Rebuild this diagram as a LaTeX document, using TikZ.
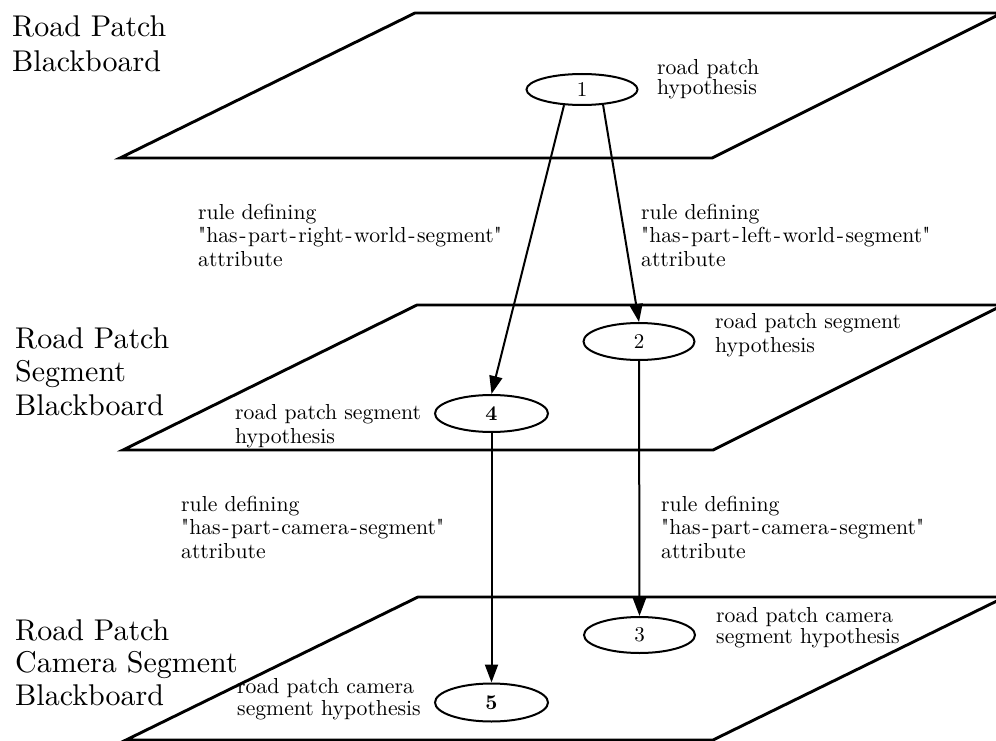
\documentclass[tikz,border=0pt]{standalone}
\usetikzlibrary{arrows.meta,shapes.geometric}
\DeclareFontFamily{TU}{lmten}{}
\DeclareFontShape{TU}{lmten}{m}{n}{<-> "[lmroman10-regular]"}{}
\DeclareFontShape{TU}{lmten}{b}{n}{<-> "[lmroman10-bold]"}{}
\newcommand\myhy{\kern1.6pt-\kern1.6pt}
\tikzset{
  plane/.style={line width=2.9pt, line join=miter},
  hyp/.style={ellipse, draw, line width=2pt, inner sep=0pt, font=\fontfamily{lmten}\fontsize{21}{22}\selectfont},
  hypb/.style={hyp, font=\fontfamily{lmten}\fontseries{b}\fontsize{21}{22}\selectfont},
  conn/.style={line width=2pt, -{Triangle[length=18pt,width=13pt]}},
  bigl/.style={anchor=base west, inner sep=0pt, align=left, font=\fontfamily{lmten}\fontsize{30}{34}\selectfont},
  smalll/.style={anchor=base west, inner sep=0pt, align=left, font=\fontfamily{lmten}\fontsize{21.7}{23.5}\selectfont},
}
\begin{document}
\begin{tikzpicture}[x=1pt,y=-1pt]
\useasboundingbox (0,0) rectangle (996,741);
\clip (0,0) rectangle (996,741);
% planes
\draw[plane] (120,158) -- (415,13) -- (1002,13) -- (712,158) -- cycle;
\draw[plane] (123,450) -- (417,305) -- (1003,305) -- (713,450) -- cycle;
\draw[plane] (126,740) -- (418,597) -- (1005,597) -- (713,740) -- cycle;
% big labels (anchor = baseline of last line)
\node[bigl, font=\fontfamily{lmten}\fontsize{30}{35}\selectfont] (bb1) at (12,72) {Road Patch\\Blackboard};
\node[bigl, font=\fontfamily{lmten}\fontsize{30}{33.5}\selectfont] (bb2) at (15,415) {Road Patch\\Segment\\Blackboard};
\node[bigl, font=\fontfamily{lmten}\fontsize{30}{32.5}\selectfont] (bb3) at (15,705) {Road Patch\\Camera Segment\\Blackboard};
% hypotheses
\node[hyp, minimum width=111pt, minimum height=31pt] (e1) at (582,89.5) {1};
\node[hyp, minimum width=111pt, minimum height=37pt] (e2) at (639,341.5) {2};
\node[hypb, minimum width=113pt, minimum height=37pt] (e4) at (491.5,413.5) {4};
\node[hyp, minimum width=111pt, minimum height=36pt] (e3) at (639.5,635) {3};
\node[hypb, minimum width=113pt, minimum height=38pt] (e5) at (491.5,702.5) {5};
% hypothesis labels
\node[smalll, font=\fontfamily{lmten}\fontsize{21.7}{18}\selectfont] (t1) at (657,95) {road patch\\hypothesis};
\node[smalll, font=\fontfamily{lmten}\fontsize{21.7}{24}\selectfont] (t2) at (715,352) {road patch segment\\hypothesis};
\node[smalll, font=\fontfamily{lmten}\fontsize{21.7}{24}\selectfont] (t4) at (235,443) {road patch segment\\hypothesis};
\node[smalll, font=\fontfamily{lmten}\fontsize{21.7}{21}\selectfont] (t3) at (716,643) {road patch camera\\segment hypothesis};
\node[smalll, font=\fontfamily{lmten}\fontsize{21.7}{22}\selectfont] (t5) at (237,715) {road patch camera\\segment hypothesis};
% rule labels
\node[smalll] (r1) at (198,266) {rule defining\\"has\myhy part\myhy right\myhy world\myhy segment"\\attribute};
\node[smalll] (r2) at (641,266) {rule defining\\"has\myhy part\myhy left\myhy world\myhy segment"\\attribute};
\node[smalll] (r3) at (181,558) {rule defining\\"has\myhy part\myhy camera\myhy segment"\\attribute};
\node[smalll] (r4) at (661,558) {rule defining\\"has\myhy part\myhy camera\myhy segment"\\attribute};
% connectors
\draw[conn] (e1.221) -- (e4.north);
\draw[conn] (e1.324) -- (e2.north);
\draw[conn] (e4.south) -- (e5.north);
\draw[conn] (e2.south) -- (e3.north);
\end{tikzpicture}
\end{document}
